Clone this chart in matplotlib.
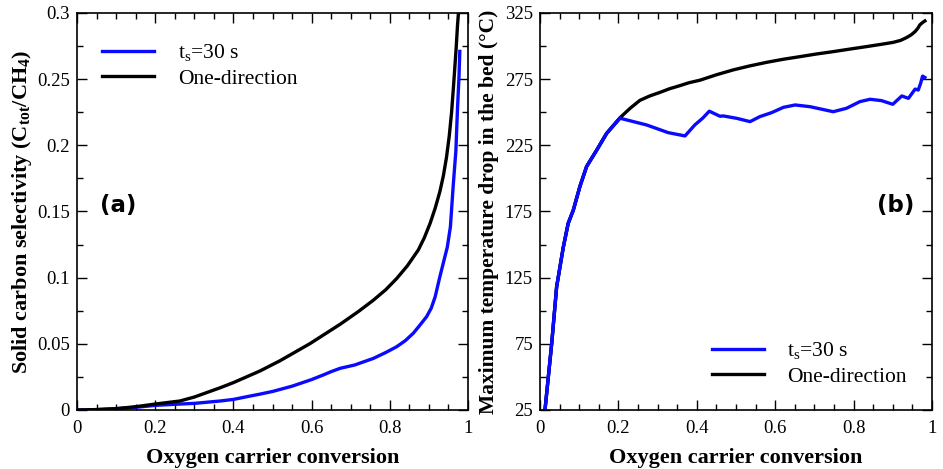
import matplotlib
matplotlib.use("Agg")
import matplotlib.pyplot as plt
from matplotlib.ticker import MultipleLocator

plt.rcParams['font.family'] = ['Liberation Serif', 'DejaVu Serif']
plt.rcParams['mathtext.fontset'] = 'custom'
plt.rcParams['mathtext.rm'] = 'Liberation Serif'
plt.rcParams['mathtext.it'] = 'Liberation Serif:italic'
plt.rcParams['mathtext.bf'] = 'Liberation Serif:bold'

# (a) solid carbon selectivity vs oxygen carrier conversion
a_x_one = [0, 0.05, 0.1, 0.15, 0.2, 0.263, 0.3, 0.366, 0.4, 0.468, 0.519,
           0.596, 0.673, 0.72, 0.758, 0.79, 0.818, 0.845, 0.873, 0.888, 0.903,
           0.916, 0.928, 0.937, 0.945, 0.952, 0.958, 0.963, 0.967, 0.970,
           0.973, 0.976]
a_y_one = [0, 0.0003, 0.001, 0.0025, 0.0045, 0.0068, 0.0098, 0.0168, 0.0207,
           0.0295, 0.0372, 0.0502, 0.0648, 0.0745, 0.083, 0.091, 0.0995, 0.109,
           0.121, 0.130, 0.141, 0.1525, 0.165, 0.177, 0.191, 0.207, 0.225,
           0.245, 0.262, 0.275, 0.290, 0.302]
a_x_ts = [0, 0.05, 0.1, 0.15, 0.2, 0.263, 0.3, 0.366, 0.4, 0.442, 0.468, 0.5,
          0.55, 0.6, 0.63, 0.65, 0.673, 0.71, 0.758, 0.79, 0.818, 0.84, 0.86,
          0.878, 0.894, 0.906, 0.916, 0.928, 0.941, 0.947, 0.955, 0.962,
          0.969, 0.973, 0.977, 0.979]
a_y_ts = [0, 0.0003, 0.001, 0.002, 0.0035, 0.0045, 0.005, 0.0068, 0.008,
          0.0105, 0.012, 0.014, 0.018, 0.023, 0.0265, 0.029, 0.0315, 0.034,
          0.039, 0.0435, 0.0479, 0.0525, 0.058, 0.0645, 0.0705, 0.077,
          0.0856, 0.1007, 0.116, 0.123, 0.1385, 0.169, 0.196, 0.227, 0.252,
          0.271]

# (b) maximum temperature drop vs oxygen carrier conversion
b_x_one = [0.0128, 0.030, 0.0425, 0.0595, 0.072, 0.085, 0.102, 0.119, 0.145,
           0.170, 0.204, 0.23, 0.255, 0.28, 0.306, 0.33, 0.357, 0.38, 0.408,
           0.45, 0.493, 0.535, 0.578, 0.62, 0.663, 0.705, 0.748, 0.79, 0.833,
           0.87, 0.901, 0.92, 0.935, 0.947, 0.957, 0.964, 0.969, 0.976, 0.982]
b_y_one = [25, 75.4, 118, 148, 166, 176, 194, 209, 221.5, 234, 245.8, 253,
           259, 262.3, 265, 267.7, 270.1, 272.3, 274.2, 278.3, 282, 285,
           287.7, 290, 292, 294, 295.8, 297.7, 299.6, 301.3, 302.8, 304.3,
           306.4, 308.5, 311, 313.5, 316, 317.8, 319]
b_x_ts = [0.0128, 0.030, 0.0425, 0.0595, 0.072, 0.085, 0.102, 0.119, 0.145,
          0.170, 0.204, 0.272, 0.327, 0.370, 0.395, 0.415, 0.432, 0.459, 0.468,
          0.502, 0.536, 0.561, 0.591, 0.621, 0.651, 0.689, 0.748, 0.782, 0.816,
          0.842, 0.871, 0.900, 0.923, 0.940, 0.957, 0.965, 0.971, 0.976, 0.982]
b_y_ts = [25, 75.4, 118, 148, 166, 176, 194, 209, 221.5, 234, 245.5, 240.4,
          234.6, 232.1, 240.4, 245.5, 250.8, 247, 247.2, 245.4, 242.9, 246.7,
          249.7, 253.7, 255.5, 254.2, 250.4, 253, 258, 259.8, 258.8, 256,
          262.3, 260.5, 267.5, 266.8, 271.8, 277.3, 276.3]

ts_label = r'$\mathregular{t_s}$=30 s'
one_label = 'One-direction'
blue = '#0a0aff'
lw = 2.4

fig = plt.figure(figsize=(9.43, 4.69), dpi=100)
ax1 = fig.add_axes([0.0817, 0.1258, 0.4146, 0.8465])
ax2 = fig.add_axes([0.5726, 0.1258, 0.4157, 0.8465])

ax1.plot(a_x_ts, a_y_ts, color=blue, lw=lw, label=ts_label)
ax1.plot(a_x_one, a_y_one, color='black', lw=lw, label=one_label)
ax1.set_xlim(0, 1)
ax1.set_ylim(0, 0.3)
ax1.set_xticks([0, 0.2, 0.4, 0.6, 0.8, 1.0])
ax1.set_xticklabels(['0', '0.2', '0.4', '0.6', '0.8', '1'])
ax1.xaxis.set_minor_locator(MultipleLocator(0.05))
ax1.set_yticks([0, 0.05, 0.1, 0.15, 0.2, 0.25, 0.3])
ax1.set_yticklabels(['0', '0.05', '0.1', '0.15', '0.2', '0.25', '0.3'])
ax1.yaxis.set_minor_locator(MultipleLocator(0.025))
ax1.set_xlabel('Oxygen carrier conversion', fontsize=16, fontweight='bold', labelpad=8)
ax1.set_ylabel(r'Solid carbon selectivity (C$_{\mathbf{tot}}$/CH$_{\mathbf{4}}$)',
               fontsize=16, fontweight='bold', labelpad=2)
ax1.text(0.059, 0.516, '(a)', transform=ax1.transAxes, fontsize=16.5,
         fontweight='bold', family='DejaVu Sans', va='center')
ax1.legend(loc='upper left', bbox_to_anchor=(0.015, 0.975), frameon=False,
           fontsize=15.5, handlelength=2.4, handletextpad=1.1, labelspacing=0.25)

ax2.plot(b_x_ts, b_y_ts, color=blue, lw=lw, label=ts_label)
ax2.plot(b_x_one, b_y_one, color='black', lw=lw, label=one_label)
ax2.plot(b_x_ts[:11], b_y_ts[:11], color=blue, lw=lw)
ax2.set_xlim(0, 1)
ax2.set_ylim(25, 325)
ax2.set_xticks([0, 0.2, 0.4, 0.6, 0.8, 1.0])
ax2.set_xticklabels(['0', '0.2', '0.4', '0.6', '0.8', '1'])
ax2.xaxis.set_minor_locator(MultipleLocator(0.05))
ax2.set_yticks([25, 75, 125, 175, 225, 275, 325])
ax2.yaxis.set_minor_locator(MultipleLocator(25))
ax2.set_xlabel('Oxygen carrier conversion', fontsize=16, fontweight='bold', labelpad=8)
ax2.set_ylabel('Maximum temperature drop in the bed (°C)', fontsize=15.5,
               fontweight='bold', labelpad=4)
ax2.text(0.86, 0.516, '(b)', transform=ax2.transAxes, fontsize=16.5,
         fontweight='bold', family='DejaVu Sans', va='center')
ax2.legend(loc='lower right', bbox_to_anchor=(0.985, 0.01), frameon=False,
           fontsize=15.5, handlelength=2.4, handletextpad=1.1, labelspacing=0.25)

for ax in (ax1, ax2):
    ax.tick_params(which='both', direction='in', top=True, right=True,
                   labelsize=13.5)
    ax.tick_params(axis='x', which='both', pad=7)
    ax.tick_params(axis='y', which='both', pad=5)
    ax.tick_params(which='major', length=7, width=1)
    ax.tick_params(which='minor', length=4, width=1)
    for s in ax.spines.values():
        s.set_linewidth(1.2)

fig.savefig('out.png', dpi=100)
